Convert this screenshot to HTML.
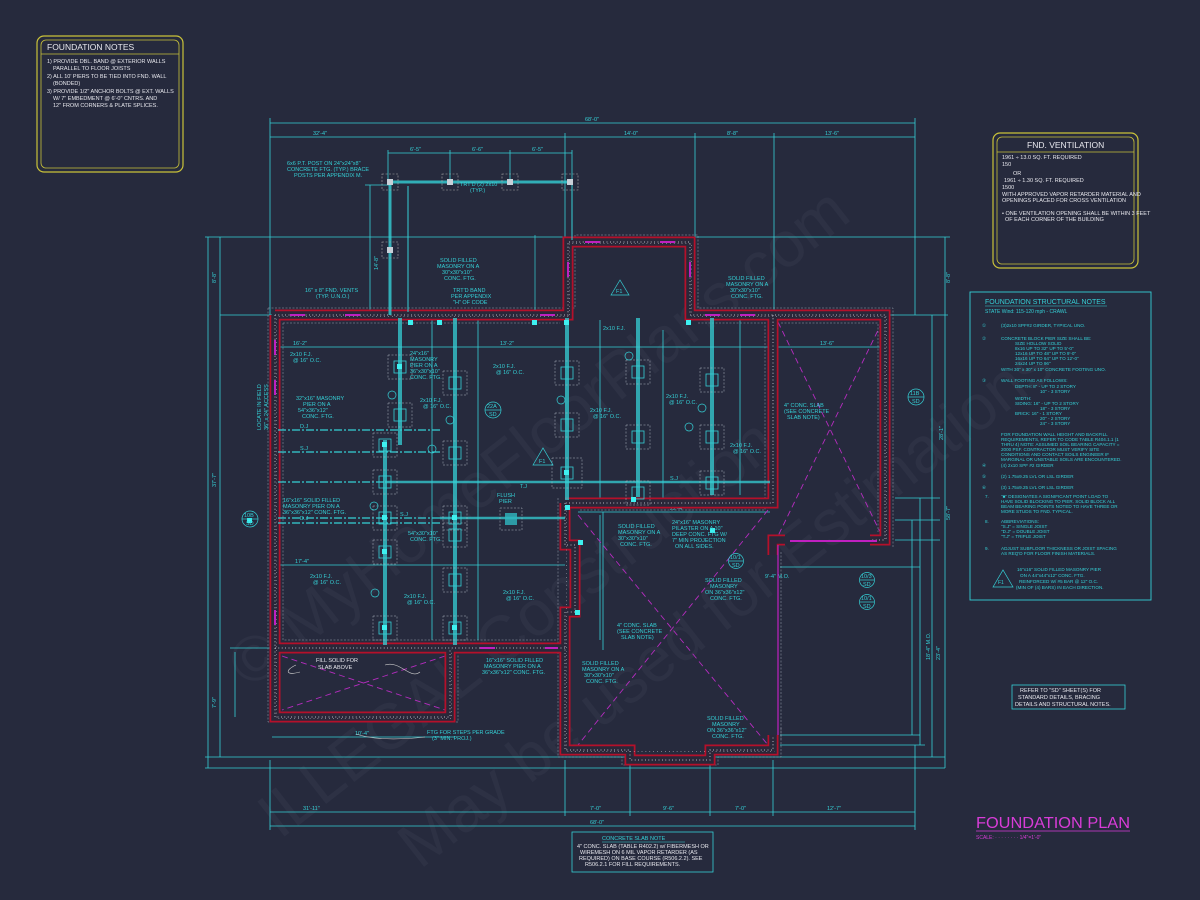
<!DOCTYPE html>
<html><head><meta charset="utf-8"><style>
html,body{margin:0;padding:0;background:#262a3d;}
svg{display:block}
text{font-family:"Liberation Sans",sans-serif;}
.c{fill:#35d0d6;font-size:5.5px}
.w{fill:#e8e8ee;font-size:5.5px}
</style></head><body>
<svg width="1200" height="900" viewBox="0 0 1200 900" xmlns="http://www.w3.org/2000/svg">
<rect width="1200" height="900" fill="#262a3d"/>
<!-- watermarks -->
<g fill="#8a8fa8" opacity="0.07" font-family="Liberation Serif" font-size="64">
<text transform="translate(250,690) rotate(-38)">© MyHomeFloorPlans.com</text>
<text transform="translate(280,840) rotate(-38)">ILLEGAL Construction</text>
<text transform="translate(420,870) rotate(-38)">May be used for Estimations</text>
</g>

<!-- Foundation notes box -->
<g>
<rect x="37" y="36" width="146" height="136" rx="7" fill="none" stroke="#c9c23a" stroke-width="1.2"/>
<rect x="41" y="40" width="138" height="128" rx="5" fill="none" stroke="#c9c23a" stroke-width="0.8"/>
<line x1="41" y1="54" x2="179" y2="54" stroke="#c9c23a" stroke-width="0.8"/>
<text x="47" y="50" fill="#e8e8ee" font-size="8.5">FOUNDATION NOTES</text>
<text x="47" y="63" class="w">1) PROVIDE DBL. BAND @ EXTERIOR WALLS</text>
<text x="53" y="70" class="w">PARALLEL TO FLOOR JOISTS</text>
<text x="47" y="78" class="w">2) ALL 10' PIERS TO BE TIED INTO FND. WALL</text>
<text x="53" y="85" class="w">(BONDED)</text>
<text x="47" y="93" class="w">3) PROVIDE 1/2" ANCHOR BOLTS @ EXT. WALLS</text>
<text x="53" y="100" class="w">W/ 7" EMBEDMENT @ 6'-0" CNTRS. AND</text>
<text x="53" y="107" class="w">12" FROM CORNERS &amp; PLATE SPLICES.</text>
</g>

<!-- FND ventilation box -->
<g>
<rect x="993" y="133" width="145" height="135" rx="7" fill="none" stroke="#c9c23a" stroke-width="1.2"/>
<rect x="997" y="137" width="137" height="127" rx="5" fill="none" stroke="#c9c23a" stroke-width="0.8"/>
<line x1="997" y1="152" x2="1134" y2="152" stroke="#c9c23a" stroke-width="0.8"/>
<text x="1027" y="148" fill="#e8e8ee" font-size="8.5">FND. VENTILATION</text>
<text x="1002" y="159" class="w" font-size="4.5">1961 ÷ 13.0 SQ. FT. REQUIRED</text>
<text x="1002" y="166" class="w" font-size="4.5">150</text>
<text x="1013" y="175" class="w" font-size="4.5">OR</text>
<text x="1004" y="182" class="w" font-size="4.5">1961 ÷ 1.30 SQ. FT. REQUIRED</text>
<text x="1002" y="189" class="w" font-size="4.5">1500</text>
<text x="1002" y="196" class="w" font-size="4.5">WITH APPROVED VAPOR RETARDER MATERIAL AND</text>
<text x="1002" y="202" class="w" font-size="4.5">OPENINGS PLACED FOR CROSS VENTILATION</text>
<text x="1002" y="215" class="w" font-size="4.5">• ONE VENTILATION OPENING SHALL BE WITHIN 3 FEET</text>
<text x="1005" y="221" class="w" font-size="4.5">OF EACH CORNER OF THE BUILDING</text>
</g>

<!-- Structural notes -->
<g fill="#35d0d6" font-size="4.6">
<rect x="970" y="292" width="181" height="308" fill="none" stroke="#35d0d6" stroke-width="0.9"/>
<text x="985" y="304" font-size="7">FOUNDATION STRUCTURAL NOTES</text>
<line x1="985" y1="306" x2="1107" y2="306" stroke="#35d0d6" stroke-width="0.5"/>
<text x="985" y="313" font-size="5">STATE Wind: 115-120 mph - CRAWL</text>
<text x="982" y="327">①</text><text x="1001" y="327">(3)2x10 SPF#2 GIRDER, TYPICAL UNO.</text>
<text x="982" y="340">②</text><text x="1001" y="340">CONCRETE BLOCK PIER SIZE SHALL BE:</text>
<text x="1015" y="345">SIZE  HOLLOW      SOLID</text>
<text x="1015" y="350">8x16  UP TO 32"   UP TO 5'-0"</text>
<text x="1015" y="355">12x16 UP TO 48"   UP TO 9'-0"</text>
<text x="1015" y="360">16x16 UP TO 64"   UP TO 12'-0"</text>
<text x="1015" y="365">24x24 UP TO 96"</text>
<text x="1001" y="371">WITH 30" x 30" x 10" CONCRETE FOOTING UNO.</text>
<text x="982" y="382">③</text><text x="1001" y="382">WALL FOOTING AS FOLLOWS:</text>
<text x="1015" y="388">DEPTH:     8" - UP TO 2 STORY</text>
<text x="1040" y="393">10" - 3 STORY</text>
<text x="1015" y="400">WIDTH:</text>
<text x="1015" y="405">SIDING:    16" - UP TO 2 STORY</text>
<text x="1040" y="410">18" - 3 STORY</text>
<text x="1015" y="415">BRICK:     16" - 1 STORY</text>
<text x="1040" y="420">20" - 2 STORY</text>
<text x="1040" y="425">24" - 3 STORY</text>
<text x="1001" y="436">FOR FOUNDATION WALL HEIGHT AND BACKFILL</text>
<text x="1001" y="441">REQUIREMENTS, REFER TO CODE TABLE R404.1.1 (1</text>
<text x="1001" y="446">THRU 4) NOTE: ASSUMED SOIL BEARING CAPACITY =</text>
<text x="1001" y="451">2000 PSF. CONTRACTOR MUST VERIFY SITE</text>
<text x="1001" y="456">CONDITIONS AND CONTACT SOILS ENGINEER IF</text>
<text x="1001" y="461">MARGINAL OR UNSTABLE SOILS ARE ENCOUNTERED.</text>
<text x="982" y="467">④</text><text x="1001" y="467">(4) 2x10 SPF #2 GIRDER</text>
<text x="982" y="478">⑤</text><text x="1001" y="478">(2) 1.75x9.25 LVL OR LSL GIRDER</text>
<text x="982" y="489">⑥</text><text x="1001" y="489">(3) 1.75x9.25 LVL OR LSL GIRDER</text>
<text x="985" y="498">7.</text><text x="1001" y="498">"■" DESIGNATES A SIGNIFICANT POINT LOAD TO</text>
<text x="1001" y="503">HAVE SOLID BLOCKING TO PIER. SOLID BLOCK ALL</text>
<text x="1001" y="508">BEAM BEARING POINTS NOTED TO HAVE THREE OR</text>
<text x="1001" y="513">MORE STUDS TO FND. TYPICAL.</text>
<text x="985" y="523">8.</text><text x="1001" y="523">ABBREVIATIONS:</text>
<text x="1001" y="528">"S.J" = SINGLE JOIST</text>
<text x="1001" y="533">"D.J" = DOUBLE JOIST</text>
<text x="1001" y="538">"T.J" = TRIPLE JOIST</text>
<text x="985" y="550">9.</text><text x="1001" y="550">ADJUST SUBFLOOR THICKNESS OR JOIST SPACING</text>
<text x="1001" y="555">AS REQ'D FOR FLOOR FINISH MATERIALS.</text>
<polygon points="993,587 1003,570 1013,587" fill="none" stroke="#35d0d6" stroke-width="0.7"/>
<text x="998" y="584" font-size="5">F1</text>
<text x="1017" y="571">16"x16" SOLID FILLED MASONRY PIER</text>
<text x="1020" y="577">ON A 44"x44"x12" CONC. FTG.</text>
<text x="1019" y="583">REINFORCED W/ #5 BAR @ 12" O.C.</text>
<text x="1016" y="589">(MIN OF (4) BARS) IN EACH DIRECTION.</text>
</g>

<!-- SD note -->
<rect x="1012" y="685" width="113" height="24" fill="none" stroke="#35d0d6" stroke-width="0.8"/>
<text x="1020" y="692" class="w" font-size="5">REFER TO "SD" SHEET(S) FOR</text>
<text x="1018" y="699" class="w" font-size="5">STANDARD DETAILS, BRACING</text>
<text x="1015" y="706" class="w" font-size="5">DETAILS AND STRUCTURAL NOTES.</text>

<!-- Title -->
<text x="976" y="828" fill="#d83cd8" font-size="16" textLength="154" lengthAdjust="spacingAndGlyphs">FOUNDATION PLAN</text>
<line x1="976" y1="831" x2="1130" y2="831" stroke="#d83cd8" stroke-width="0.7"/>
<text x="976" y="839" fill="#d83cd8" font-size="5">SCALE: · · · · · · · · 1/4"=1'-0"</text>

<!-- Concrete slab note -->
<rect x="572" y="832" width="141" height="40" fill="none" stroke="#35d0d6" stroke-width="0.8"/>
<text x="602" y="840" class="c" font-size="6.5">CONCRETE SLAB NOTE</text>
<line x1="602" y1="842" x2="685" y2="842" stroke="#35d0d6" stroke-width="0.5"/>
<text x="577" y="848" class="w" font-size="4.6">4" CONC. SLAB (TABLE R402.2) w/ FIBERMESH OR</text>
<text x="580" y="854" class="w" font-size="4.6">WIREMESH ON 6 MIL VAPOR RETARDER (AS</text>
<text x="579" y="860" class="w" font-size="4.6">REQUIRED) ON BASE COURSE (R506.2.2). SEE</text>
<text x="585" y="866" class="w" font-size="4.6">R506.2.1 FOR FILL REQUIREMENTS.</text>

<!-- Dimension lines -->
<g stroke="#35d0d6" stroke-width="0.8" fill="none">
<line x1="270" y1="123" x2="915" y2="123"/>
<line x1="270" y1="137" x2="915" y2="137"/>
<line x1="270" y1="118" x2="270" y2="315"/>
<line x1="915" y1="118" x2="915" y2="315"/>
<line x1="565" y1="133" x2="565" y2="240"/>
<line x1="695" y1="133" x2="695" y2="240"/>
<line x1="774" y1="133" x2="774" y2="315"/>
<line x1="388" y1="153" x2="572" y2="153"/>
<line x1="388" y1="150" x2="388" y2="180"/><line x1="450" y1="150" x2="450" y2="180"/>
<line x1="510" y1="150" x2="510" y2="180"/><line x1="572" y1="150" x2="572" y2="180"/>
<line x1="370" y1="185" x2="370" y2="315"/><line x1="365" y1="185" x2="390" y2="185"/>
<line x1="205" y1="237" x2="950" y2="237"/>
<line x1="205" y1="757" x2="945" y2="757"/>
<line x1="205" y1="768" x2="945" y2="768"/>
<line x1="208" y1="237" x2="208" y2="768"/>
<line x1="220" y1="237" x2="220" y2="757"/>
<line x1="220" y1="315" x2="272" y2="315"/>
<line x1="230" y1="648" x2="272" y2="648"/>
<line x1="235" y1="652" x2="235" y2="717"/>
<line x1="945" y1="237" x2="945" y2="768"/>
<line x1="932" y1="315" x2="932" y2="757"/>
<line x1="890" y1="315" x2="948" y2="315"/>
<line x1="895" y1="498" x2="940" y2="498"/>
<line x1="895" y1="520" x2="940" y2="520"/>
<line x1="895" y1="540" x2="940" y2="540"/>
<line x1="780" y1="567" x2="920" y2="567"/>
<line x1="780" y1="735" x2="920" y2="735"/>
<line x1="780" y1="745" x2="925" y2="745"/>
<line x1="920" y1="498" x2="920" y2="745"/>
<line x1="912" y1="520" x2="912" y2="735"/>
<line x1="270" y1="812" x2="915" y2="812"/>
<line x1="270" y1="826" x2="915" y2="826"/>
<line x1="270" y1="760" x2="270" y2="830"/>
<line x1="565" y1="760" x2="565" y2="816"/>
<line x1="630" y1="760" x2="630" y2="816"/>
<line x1="710" y1="760" x2="710" y2="816"/>
<line x1="773" y1="760" x2="773" y2="816"/>
<line x1="915" y1="745" x2="915" y2="830"/>
<line x1="272" y1="737" x2="455" y2="737"/>
<line x1="278" y1="347" x2="885" y2="347"/>
<line x1="278" y1="565" x2="565" y2="565"/>
<line x1="578" y1="512" x2="770" y2="512"/>
<line x1="280" y1="330" x2="280" y2="640"/>
<line x1="432" y1="320" x2="432" y2="640"/>
<line x1="478" y1="320" x2="478" y2="640"/>
<line x1="600" y1="320" x2="600" y2="500"/>
<line x1="600" y1="515" x2="600" y2="640"/>
<line x1="663" y1="330" x2="663" y2="500"/>
<line x1="740" y1="320" x2="740" y2="495"/>
<line x1="603" y1="512" x2="603" y2="650"/>
</g>
<g class="c" font-size="5.5">
<text x="585" y="121">68'-0"</text>
<text x="313" y="135">32'-4"</text><text x="624" y="135">14'-0"</text>
<text x="727" y="135">8'-8"</text><text x="825" y="135">13'-6"</text>
<text x="410" y="151">6'-5"</text><text x="472" y="151">6'-6"</text><text x="532" y="151">6'-5"</text>
<text x="303" y="810">31'-11"</text><text x="590" y="810">7'-0"</text><text x="663" y="810">9'-6"</text>
<text x="735" y="810">7'-0"</text><text x="827" y="810">12'-7"</text>
<text x="590" y="824">68'-0"</text>
<text x="355" y="735">10'-4"</text>
<text x="765" y="578">9'-4" M.O.</text>
<text x="293" y="345">16'-2"</text><text x="500" y="345">13'-2"</text><text x="820" y="345">13'-6"</text>
<text x="295" y="563">17'-4"</text><text x="670" y="510">22'-4"</text>
<text transform="translate(216,283) rotate(-90)">8'-8"</text>
<text transform="translate(216,487) rotate(-90)">37'-7"</text>
<text transform="translate(216,708) rotate(-90)">7'-9"</text>
<text transform="translate(950,283) rotate(-90)">8'-8"</text>
<text transform="translate(950,520) rotate(-90)">58'-7"</text>
<text transform="translate(943,440) rotate(-90)">28'-1"</text>
<text transform="translate(930,660) rotate(-90)">18'-4" M.O.</text>
<text transform="translate(940,660) rotate(-90)">23'-4"</text>
<text transform="translate(378,270) rotate(-90)">14'-8"</text>
</g>

<!-- magenta slab X lines -->
<g stroke="#b52cbf" stroke-width="0.9" stroke-dasharray="6 4" fill="none">
<line x1="778" y1="322" x2="882" y2="536"/><line x1="882" y1="322" x2="778" y2="536"/>
<line x1="578" y1="515" x2="768" y2="745"/><line x1="768" y1="510" x2="578" y2="745"/>
<line x1="282" y1="656" x2="445" y2="710"/><line x1="445" y1="656" x2="282" y2="710"/>
</g>

<!-- footing dashed outlines -->
<g stroke="#9aa0b0" stroke-width="0.5" stroke-dasharray="2 1.5" fill="none">
<path d="M268,308 H575 V235 H698 V308 H893 V548"/>
<path d="M283,323 H560 M698,323 H765 M781,323 H878 V532"/>
<path d="M268,308 V722 H458 V655"/>
<path d="M283,323 V640 H558"/>
<path d="M558,498 V757 H622 V765 H718 V757 H781 V728 M781,552 V740"/>
<path d="M580,510 H765 V320"/>
</g>

<!-- Walls -->
<g fill="none" stroke-linejoin="miter">
<g stroke="#b5102a" stroke-width="11">
<path d="M275,315 H568 V242 H690 V315 H885 V540 H870"/>
<path d="M785,540 H773 V555"/>
<path d="M773,315 V503 H565"/>
<path d="M275,315 V717 H450 V648"/>
<path d="M275,648 H565"/>
<path d="M565,503 V545 H575 V612 H565 V750 H630 V760 H710 V750 H773 V735"/>
</g>
<g stroke="#2a2739" stroke-width="7.5">
<path d="M275,315 H568 V242 H690 V315 H885 V540 H870"/>
<path d="M785,540 H773 V555"/>
<path d="M773,315 V503 H565"/>
<path d="M275,315 V717 H450 V648"/>
<path d="M275,648 H565"/>
<path d="M565,503 V545 H575 V612 H565 V750 H630 V760 H710 V750 H773 V735"/>
</g>
<g stroke="#d8d8e0" stroke-width="1" stroke-dasharray="0.8 2.6">
<path d="M275,315 H568 V242 H690 V315 H885 V540 H870"/>
<path d="M773,315 V503 H565"/>
<path d="M275,315 V717 H450 V648"/>
<path d="M275,648 H565"/>
<path d="M565,503 V545 H575 V612 H565 V750 H630 V760 H710 V750 H773 V735"/>
</g>
<g stroke="#d8d8e0" stroke-width="0.7" stroke-dasharray="0.6 3.3" stroke-dashoffset="1.5" transform="translate(1.5,1.5)">
<path d="M275,315 H568 V242 H690 V315 H885 V540"/>
<path d="M275,315 V717 H450 V648"/>
<path d="M565,503 V750 H773"/>
</g>
</g>
<!-- M.O. and vents magenta -->
<g stroke="#c020c0" stroke-width="2">
<line x1="790" y1="541" x2="877" y2="541"/>
<line x1="778" y1="545" x2="778" y2="735" stroke-width="1.2"/>
<line x1="290" y1="315" x2="305" y2="315"/><line x1="345" y1="315" x2="360" y2="315"/>
<line x1="540" y1="315" x2="555" y2="315"/><line x1="585" y1="242" x2="600" y2="242"/>
<line x1="660" y1="242" x2="675" y2="242"/><line x1="568" y1="262" x2="568" y2="277"/>
<line x1="690" y1="262" x2="690" y2="277"/><line x1="705" y1="315" x2="720" y2="315"/>
<line x1="740" y1="315" x2="755" y2="315"/><line x1="275" y1="340" x2="275" y2="355"/>
<line x1="275" y1="380" x2="275" y2="395"/><line x1="275" y1="610" x2="275" y2="625"/>
<line x1="480" y1="648" x2="495" y2="648"/><line x1="545" y1="648" x2="558" y2="648"/>
</g>

<!-- porch -->
<g stroke="#35d0d6" fill="none">
<line x1="390" y1="182" x2="572" y2="182" stroke-width="3" stroke-opacity="0.8"/>
<line x1="390" y1="182" x2="390" y2="315" stroke-width="3" stroke-opacity="0.8"/>
<line x1="408" y1="186" x2="408" y2="312" stroke-width="1"/>
<line x1="572" y1="182" x2="572" y2="240" stroke-width="1"/>
<line x1="535" y1="235" x2="535" y2="310" stroke-width="0.7"/>
<g stroke="#aaa" stroke-dasharray="2 1.5" stroke-width="0.6">
<rect x="382" y="174" width="16" height="16"/><rect x="442" y="174" width="16" height="16"/>
<rect x="502" y="174" width="16" height="16"/><rect x="562" y="174" width="16" height="16"/>
<rect x="382" y="242" width="16" height="16"/>
</g>
</g>
<g fill="#c8d0d8"><rect x="387" y="179" width="6" height="6"/><rect x="447" y="179" width="6" height="6"/>
<rect x="507" y="179" width="6" height="6"/><rect x="567" y="179" width="6" height="6"/><rect x="387" y="247" width="6" height="6"/></g>

<!-- girders -->
<g stroke="#35d0d6" stroke-opacity="0.75" stroke-width="4" fill="none">
<line x1="400" y1="318" x2="400" y2="445"/>
<line x1="385" y1="440" x2="385" y2="645"/>
<line x1="455" y1="318" x2="455" y2="645"/>
<line x1="567" y1="318" x2="567" y2="500"/>
<line x1="638" y1="318" x2="638" y2="497"/>
<line x1="712" y1="318" x2="712" y2="495"/>
<line x1="385" y1="482" x2="770" y2="482" stroke-width="2.5"/>
<line x1="440" y1="518" x2="565" y2="518" stroke-width="2.5"/>
</g>
<g stroke="#35d0d6" stroke-width="1.3" stroke-dasharray="8 2 2 2" fill="none">
<line x1="278" y1="430" x2="440" y2="430"/>
<line x1="278" y1="452" x2="440" y2="452"/>
<line x1="278" y1="482" x2="385" y2="482"/>
<line x1="278" y1="518" x2="440" y2="518"/>
<line x1="278" y1="523" x2="440" y2="523"/>
</g>
<!-- piers -->
<g stroke="#b0b6c2" stroke-width="0.5" stroke-dasharray="2 1.5" fill="none">
<rect x="388" y="355" width="24" height="24"/><rect x="388" y="403" width="24" height="24"/>
<rect x="373" y="433" width="24" height="24"/><rect x="373" y="470" width="24" height="24"/>
<rect x="373" y="506" width="24" height="24"/><rect x="373" y="540" width="24" height="24"/>
<rect x="373" y="616" width="24" height="24"/>
<rect x="443" y="371" width="24" height="24"/><rect x="443" y="441" width="24" height="24"/>
<rect x="443" y="506" width="24" height="24"/><rect x="443" y="523" width="24" height="24"/>
<rect x="443" y="568" width="24" height="24"/><rect x="443" y="616" width="24" height="24"/>
<rect x="555" y="361" width="24" height="24"/><rect x="555" y="413" width="24" height="24"/>
<rect x="552" y="458" width="30" height="30"/>
<rect x="626" y="360" width="24" height="24"/><rect x="626" y="425" width="24" height="24"/>
<rect x="626" y="481" width="24" height="24"/>
<rect x="700" y="368" width="24" height="24"/><rect x="700" y="425" width="24" height="24"/>
<rect x="700" y="471" width="24" height="24"/>
<rect x="500" y="508" width="22" height="22"/>
</g>
<g stroke="#35d0d6" stroke-width="0.8" fill="none">
<rect x="394" y="361" width="12" height="12"/><rect x="394" y="409" width="12" height="12"/>
<rect x="379" y="439" width="12" height="12"/><rect x="379" y="476" width="12" height="12"/>
<rect x="379" y="512" width="12" height="12"/><rect x="379" y="546" width="12" height="12"/>
<rect x="379" y="622" width="12" height="12"/>
<rect x="449" y="377" width="12" height="12"/><rect x="449" y="447" width="12" height="12"/>
<rect x="449" y="512" width="12" height="12"/><rect x="449" y="529" width="12" height="12"/>
<rect x="449" y="574" width="12" height="12"/><rect x="449" y="622" width="12" height="12"/>
<rect x="561" y="367" width="12" height="12"/><rect x="561" y="419" width="12" height="12"/>
<rect x="561" y="467" width="12" height="12"/>
<rect x="632" y="366" width="12" height="12"/><rect x="632" y="431" width="12" height="12"/>
<rect x="632" y="487" width="12" height="12"/>
<rect x="706" y="374" width="12" height="12"/><rect x="706" y="431" width="12" height="12"/>
<rect x="706" y="477" width="12" height="12"/>
</g>
<rect x="505" y="513" width="12" height="12" fill="#2fb8c0" opacity="0.8"/>
<g fill="#3ef0f0">
<rect x="397" y="364" width="5" height="5"/><rect x="382" y="442" width="5" height="5"/>
<rect x="382" y="515" width="5" height="5"/><rect x="382" y="549" width="5" height="5"/>
<rect x="382" y="625" width="5" height="5"/><rect x="452" y="515" width="5" height="5"/>
<rect x="452" y="625" width="5" height="5"/><rect x="564" y="470" width="5" height="5"/>
<rect x="564" y="320" width="5" height="5"/><rect x="408" y="320" width="5" height="5"/>
<rect x="437" y="320" width="5" height="5"/><rect x="532" y="320" width="5" height="5"/>
<rect x="686" y="320" width="5" height="5"/><rect x="710" y="528" width="5" height="5"/>
<rect x="631" y="497" width="5" height="5"/><rect x="565" y="505" width="5" height="5"/>
<rect x="247" y="518" width="5" height="5"/><rect x="578" y="540" width="5" height="5"/>
<rect x="575" y="610" width="5" height="5"/>
</g>

<!-- interior labels -->
<g class="c" font-size="5.2">
<text x="290" y="356">2x10 F.J.</text><text x="293" y="362">@ 16" O.C.</text>
<text x="493" y="368">2x10 F.J.</text><text x="496" y="374">@ 16" O.C.</text>
<text x="420" y="402">2x10 F.J.</text><text x="423" y="408">@ 16" O.C.</text>
<text x="590" y="412">2x10 F.J.</text><text x="593" y="418">@ 16" O.C.</text>
<text x="666" y="398">2x10 F.J.</text><text x="669" y="404">@ 16" O.C.</text>
<text x="730" y="447">2x10 F.J.</text><text x="733" y="453">@ 16" O.C.</text>
<text x="310" y="578">2x10 F.J.</text><text x="313" y="584">@ 16" O.C.</text>
<text x="404" y="598">2x10 F.J.</text><text x="407" y="604">@ 16" O.C.</text>
<text x="503" y="594">2x10 F.J.</text><text x="506" y="600">@ 16" O.C.</text>
<text x="410" y="355">24"x16"</text><text x="410" y="361">MASONRY</text>
<text x="410" y="367">PIER ON A</text><text x="410" y="373">36"x30"x10"</text><text x="410" y="379">CONC. FTG.</text>
<text x="296" y="400">32"x16" MASONRY</text><text x="303" y="406">PIER ON A</text>
<text x="298" y="412">54"x36"x12"</text><text x="302" y="418">CONC. FTG.</text>
<text x="283" y="502">16"x16" SOLID FILLED</text><text x="283" y="508">MASONRY PIER ON A</text>
<text x="283" y="514">36"x36"x12" CONC. FTG.</text>
<text x="408" y="535">54"x30"x10"</text><text x="410" y="541">CONC. FTG.</text>
<text x="497" y="497">FLUSH</text><text x="499" y="503">PIER</text>
<text x="618" y="528">SOLID FILLED</text><text x="618" y="534">MASONRY ON A</text>
<text x="618" y="540">30"x30"x10"</text><text x="620" y="546">CONC. FTG.</text>
<text x="672" y="524">24"x16" MASONRY</text><text x="672" y="530">PILASTER ON A 10"</text>
<text x="672" y="536">DEEP CONC. FTG W/</text><text x="672" y="542">7" MIN PROJECTION</text>
<text x="675" y="548">ON ALL SIDES.</text>
<text x="784" y="407">4" CONC. SLAB</text><text x="784" y="413">(SEE CONCRETE</text><text x="787" y="419">SLAB NOTE)</text>
<text x="617" y="627">4" CONC. SLAB</text><text x="617" y="633">(SEE CONCRETE</text><text x="621" y="639">SLAB NOTE)</text>
<text x="705" y="582">SOLID FILLED</text><text x="710" y="588">MASONRY</text>
<text x="705" y="594">ON 36"x36"x12"</text><text x="710" y="600">CONC. FTG.</text>
<text x="707" y="720">SOLID FILLED</text><text x="712" y="726">MASONRY</text>
<text x="707" y="732">ON 36"x36"x12"</text><text x="712" y="738">CONC. FTG.</text>
<text x="582" y="665">SOLID FILLED</text><text x="582" y="671">MASONRY ON A</text>
<text x="584" y="677">30"x30"x10"</text><text x="586" y="683">CONC. FTG.</text>
<text x="486" y="662">16"x16" SOLID FILLED</text><text x="484" y="668">MASONRY PIER ON A</text>
<text x="482" y="674">36"x36"x12" CONC. FTG.</text>
<text x="440" y="262">SOLID FILLED</text><text x="437" y="268">MASONRY ON A</text>
<text x="442" y="274">30"x30"x10"</text><text x="444" y="280">CONC. FTG.</text>
<text x="453" y="292">TRT'D BAND</text><text x="451" y="298">PER APPENDIX</text><text x="453" y="304">"H" OF CODE</text>
<text x="728" y="280">SOLID FILLED</text><text x="726" y="286">MASONRY ON A</text>
<text x="730" y="292">30"x30"x10"</text><text x="731" y="298">CONC. FTG.</text>
<text x="287" y="165">6x6 P.T. POST ON 24"x24"x8"</text>
<text x="287" y="171">CONCRETE FTG. (TYP.) BRACE</text>
<text x="294" y="177">POSTS PER APPENDIX M.</text>
<text x="460" y="186">TRT'D (2) 2x10</text><text x="470" y="192">(TYP.)</text>
<text x="305" y="292">16" x 8" FND. VENTS</text><text x="316" y="298">(TYP. U.N.O.)</text>
<text x="603" y="330">2x10 F.J.</text>
<text x="520" y="488">T.J</text><text x="300" y="450">S.J</text><text x="300" y="428">D.J</text>
<text x="400" y="516">S.J</text><text x="300" y="520">D.J</text><text x="670" y="480">S.J</text>
<text transform="translate(261,430) rotate(-90)">LOCATE IN FIELD</text>
<text transform="translate(268,430) rotate(-90)">36" x 24" ACCESS</text>
<text x="427" y="734">FTG FOR STEPS PER GRADE</text><text x="432" y="740">(3" MIN. PROJ.)</text>
</g>
<g class="w" font-size="6"><text x="316" y="662">FILL SOLID FOR</text><text x="318" y="669">SLAB ABOVE</text></g>
<path d="M296,665 C285,670 285,676 300,672 M385,665 C400,660 410,680 420,672" stroke="#ccc" stroke-width="0.6" fill="none"/>
<path d="M356,734 Q380,742 425,737" stroke="#ccc" stroke-width="0.6" fill="none"/>

<!-- callouts -->
<g stroke="#35d0d6" stroke-width="0.7" fill="none">
<circle cx="493" cy="410" r="8"/><line x1="485" y1="410" x2="501" y2="410"/>
<circle cx="916" cy="397" r="8"/><line x1="908" y1="397" x2="924" y2="397"/>
<circle cx="250" cy="519" r="8"/><line x1="242" y1="519" x2="258" y2="519"/>
<circle cx="736" cy="561" r="7.5"/><line x1="729" y1="561" x2="743" y2="561"/>
<circle cx="867" cy="580" r="7.5"/><line x1="860" y1="580" x2="874" y2="580"/>
<circle cx="867" cy="602" r="7.5"/><line x1="860" y1="602" x2="874" y2="602"/>
<polygon points="533,465 543,448 553,465"/>
<polygon points="611,295 620,280 629,295"/>
<circle cx="392" cy="395" r="4"/><circle cx="432" cy="449" r="4"/><circle cx="374" cy="506" r="4"/>
<circle cx="375" cy="593" r="4"/><circle cx="450" cy="420" r="4"/><circle cx="561" cy="400" r="4"/>
<circle cx="629" cy="356" r="4"/><circle cx="702" cy="408" r="4"/><circle cx="689" cy="427" r="4"/>
</g>
<g class="c" font-size="5"><text x="487" y="408">22A</text><text x="489" y="416">SD</text>
<text x="910" y="395">11B</text><text x="912" y="403">SD</text>
<text x="244" y="517">10B</text><text x="246" y="525">SD</text>
<text x="730" y="559">10/1</text><text x="732" y="567">SD</text>
<text x="861" y="578">10/3</text><text x="863" y="586">SD</text>
<text x="861" y="600">10/1</text><text x="863" y="608">SD</text>
<text x="539" y="463">F1</text><text x="616" y="293">F1</text></g>
</svg>
</body></html>
